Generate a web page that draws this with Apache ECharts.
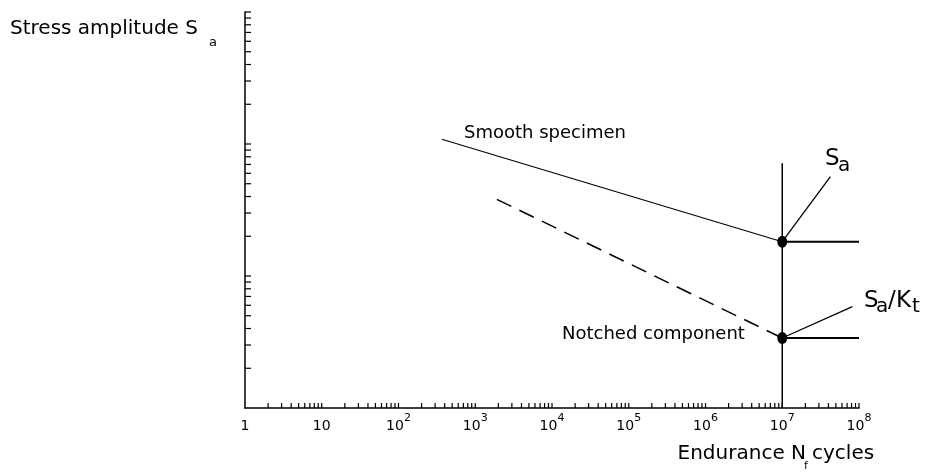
<!DOCTYPE html>
<html>
<head>
<meta charset="utf-8">
<script src="https://cdn.jsdelivr.net/npm/echarts@6/dist/echarts.min.js"></script>
<style>
  html, body { margin: 0; padding: 0; background: #fff; }
  #chart { width: 926px; height: 472px; }
</style>
</head>
<body>
<div id="chart"></div>
<script>
// S-N diagram: smooth specimen vs notched component (log-log)
const xTickLabels = ['1', '10', '10^2', '10^3', '10^4', '10^5', '10^6', '10^7', '10^8'];
const xDecades = [1, 10, 100, 1e3, 1e4, 1e5, 1e6, 1e7];
const yDecades = [1, 10, 100];
const tickMantissas = [2, 3, 4, 5, 6, 7, 8, 9, 10];

const smoothCurve = [[367, 108.6], [1e7, 18.2]];
const notchedCurve = [[1914, 38.1], [1e7, 3.39]];
const enduranceN = 1e7;
const maxN = 1e8;
const smoothLimit = 18.2;
const notchedLimit = 3.39;
const markerTop = 71.4;
const saLabelTip = [4.24e7, 56.7];
const saKtLabelTip = [8.2e7, 5.87];

const xMinMax = [1, 1e8];
const yMinMax = [1, 1000];

const FONT = 'DejaVu Sans, Verdana, sans-serif';
const black = '#000';

const xMinorTicks = [];
xDecades.forEach(d => tickMantissas.forEach(m => xMinorTicks.push([m * d, yMinMax[0]])));
const yMinorTicks = [];
yDecades.forEach(d => tickMantissas.forEach(m => yMinorTicks.push([xMinMax[0], m * d])));

function lineSeries(data, width, type) {
    return {
        type: 'line',
        data: data,
        showSymbol: false,
        symbol: 'none',
        clip: false,
        silent: true,
        lineStyle: { color: black, width: width, type: type || 'solid' }
    };
}

function txt(text, x, y, size, align) {
    return {
        type: 'text',
        silent: true,
        style: {
            text: text,
            x: x,
            y: y,
            fill: black,
            font: size + 'px ' + FONT,
            textAlign: align || 'left',
            align: align || 'left',
            textVerticalAlign: 'middle',
            verticalAlign: 'middle'
        }
    };
}

const chart = echarts.init(document.getElementById('chart'));

chart.setOption({
    animation: false,
    backgroundColor: '#fff',
    grid: { left: 245, right: 67, top: 12, bottom: 64 },
    xAxis: {
        type: 'log',
        logBase: 10,
        min: xMinMax[0],
        max: xMinMax[1],
        splitNumber: 8,
        splitLine: { show: false },
        axisTick: { show: false },
        axisLine: { show: true, lineStyle: { color: black, width: 1.5 } },
        axisLabel: {
            interval: 0,
            showMinLabel: true,
            showMaxLabel: true,
            hideOverlap: false,
            margin: 5,
            fontSize: 14,
            fontFamily: FONT,
            color: black,
            formatter: (value) => {
                const t = xTickLabels[Math.round(Math.log10(value))];
                if (!t) return '';
                const p = t.split('^');
                return p.length > 1 ? '{b|' + p[0] + '}{s|' + p[1] + '}' : '{b|' + t + '}';
            },
            rich: {
                b: { fontSize: 14, fontFamily: FONT, color: black, lineHeight: 20, verticalAlign: 'bottom' },
                s: { fontSize: 11, fontFamily: FONT, color: black, lineHeight: 20, verticalAlign: 'top' }
            }
        }
    },
    yAxis: {
        type: 'log',
        logBase: 10,
        min: yMinMax[0],
        max: yMinMax[1],
        splitNumber: 3,
        splitLine: { show: false },
        axisTick: { show: false },
        axisLabel: { show: false },
        axisLine: { show: true, lineStyle: { color: black, width: 1.5 } }
    },
    series: [
        // minor ticks on the x axis (inside)
        {
            type: 'scatter',
            data: xMinorTicks,
            symbol: 'rect',
            symbolSize: [1.2, 5],
            symbolOffset: [0, -2.5],
            itemStyle: { color: black, opacity: 1 },
            clip: false,
            silent: true
        },
        // minor ticks on the y axis (inside)
        {
            type: 'scatter',
            data: yMinorTicks,
            symbol: 'rect',
            symbolSize: [6, 1.2],
            symbolOffset: [3, 0],
            itemStyle: { color: black, opacity: 1 },
            clip: false,
            silent: true
        },
        lineSeries(smoothCurve, 1.1),
        lineSeries(notchedCurve, 1.5, [16, 9]),
        lineSeries([[enduranceN, smoothLimit], [maxN, smoothLimit]], 2),
        lineSeries([[enduranceN, notchedLimit], [maxN, notchedLimit]], 2),
        lineSeries([[enduranceN, yMinMax[0]], [enduranceN, markerTop]], 1.5),
        lineSeries([[enduranceN, smoothLimit], saLabelTip], 1.3),
        lineSeries([[enduranceN, notchedLimit], saKtLabelTip], 1.3),
        {
            type: 'scatter',
            data: [[enduranceN, smoothLimit], [enduranceN, notchedLimit]],
            symbol: 'circle',
            symbolSize: [10, 12],
            itemStyle: { color: black, opacity: 1 },
            clip: false,
            silent: true
        }
    ],
    graphic: [
        txt('Stress amplitude S', 10, 28.5, 20),
        txt('a', 209, 43, 13),
        txt('Endurance N', 806, 453.4, 20, 'right'),
        txt('f', 804, 466.5, 11),
        txt('cycles', 812, 453.4, 20),
        txt('Smooth specimen', 464, 133, 18),
        txt('Notched component', 562, 334, 18),
        txt('S', 825, 159.5, 23),
        txt('a', 838, 165.5, 20),
        txt('S', 864, 301.5, 23),
        txt('a', 876, 307, 20),
        txt('/', 888, 301.5, 23),
        txt('K', 896, 301.5, 23),
        txt('t', 912, 307, 20)
    ]
});
</script>
</body>
</html>
